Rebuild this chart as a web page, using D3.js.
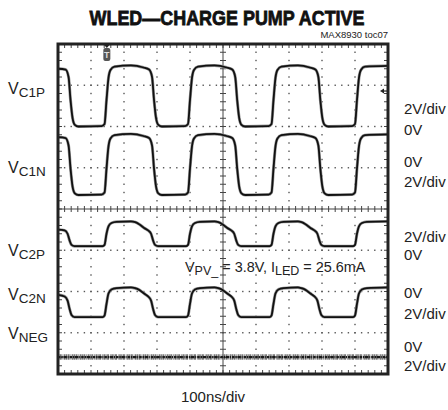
<!DOCTYPE html>
<html lang="en">
<head>
<meta charset="UTF-8">
<title>WLED - Charge Pump Active</title>
<script src="https://d3js.org/d3.v7.min.js"></script>
<style>
  body { margin: 0; background: #fff; }
  svg text { font-family: "Liberation Sans", Arial, sans-serif; fill: #222; }
</style>
</head>
<body>
<svg width="448" height="410"></svg>
<script>
// traces: [time ns, level in screen divisions from bottom]
var vc1p = [[0,7.40],[23,7.38],[32,7.20],[38,6.64],[44,6.21],[51,6.04],[62,6.00],
  [132,6.01],[141,6.06],[147,6.64],[153,7.18],[159,7.37],[171,7.45],[221,7.48],[259,7.43],
  [276,7.38],[285,7.20],[291,6.64],[297,6.21],[304,6.04],[315,6.00],
  [385,6.01],[394,6.06],[400,6.64],[406,7.18],[412,7.37],[424,7.45],[474,7.48],[511,7.43],
  [528,7.38],[537,7.20],[543,6.64],[549,6.21],[556,6.04],[567,6.00],
  [638,6.01],[647,6.06],[653,6.64],[659,7.18],[665,7.37],[677,7.45],[727,7.48],[763,7.43],
  [780,7.38],[789,7.20],[795,6.64],[801,6.21],[808,6.04],[819,6.00],
  [891,6.01],[900,6.06],[906,6.64],[912,7.18],[918,7.37],[930,7.45],[1000,7.47]];

var vc1n = [[0,5.74],[23,5.72],[32,5.54],[38,4.98],[44,4.55],[51,4.38],[62,4.34],
  [132,4.35],[141,4.40],[147,4.98],[153,5.52],[159,5.71],[171,5.79],[221,5.82],[259,5.77],
  [276,5.72],[285,5.54],[291,4.98],[297,4.55],[304,4.38],[315,4.34],
  [385,4.35],[394,4.40],[400,4.98],[406,5.52],[412,5.71],[424,5.79],[474,5.82],[511,5.77],
  [528,5.72],[537,5.54],[543,4.98],[549,4.55],[556,4.38],[567,4.34],
  [638,4.35],[647,4.40],[653,4.98],[659,5.52],[665,5.71],[677,5.79],[727,5.82],[763,5.77],
  [780,5.72],[789,5.54],[795,4.98],[801,4.55],[808,4.38],[819,4.34],
  [891,4.35],[900,4.40],[906,4.98],[912,5.52],[918,5.71],[930,5.79],[1000,5.81]];

var vc2p = [[0,3.50],[20,3.48],[29,3.40],[35,3.24],[41,3.13],[50,3.10],
  [135,3.10],[141,3.13],[147,3.40],[153,3.58],[162,3.66],[177,3.69],[221,3.70],
  [234,3.68],[246,3.63],[261,3.54],[273,3.48],[282,3.40],[288,3.24],[294,3.13],[303,3.10],
  [388,3.10],[394,3.13],[400,3.40],[406,3.58],[415,3.66],[430,3.69],[474,3.70],
  [486,3.68],[498,3.63],[513,3.54],[525,3.48],[534,3.40],[540,3.24],[546,3.13],[555,3.10],
  [641,3.10],[647,3.13],[653,3.40],[659,3.58],[668,3.66],[683,3.69],[727,3.70],
  [738,3.68],[750,3.63],[765,3.54],[777,3.48],[786,3.40],[792,3.24],[798,3.13],[807,3.10],
  [894,3.10],[900,3.13],[906,3.40],[912,3.58],[921,3.66],[936,3.69],[1000,3.70]];

var vc2n = [[0,1.92],[20,1.88],[29,1.78],[35,1.58],[41,1.43],[50,1.38],
  [135,1.38],[141,1.42],[147,1.70],[153,1.95],[162,2.05],[177,2.08],[221,2.10],
  [234,2.08],[246,2.04],[261,1.95],[273,1.88],[282,1.78],[288,1.58],[294,1.43],[303,1.38],
  [388,1.38],[394,1.42],[400,1.70],[406,1.95],[415,2.05],[430,2.08],[474,2.10],
  [486,2.08],[498,2.04],[513,1.95],[525,1.88],[534,1.78],[540,1.58],[546,1.43],[555,1.38],
  [641,1.38],[647,1.42],[653,1.70],[659,1.95],[668,2.05],[683,2.08],[727,2.10],
  [738,2.08],[750,2.04],[765,1.95],[777,1.88],[786,1.78],[792,1.58],[798,1.43],[807,1.38],
  [894,1.38],[900,1.42],[906,1.70],[912,1.95],[921,2.05],[936,2.08],[1000,2.10]];

var vneg = [[0,0.41],[1000,0.41]];

// channel names and scale labels
var channelSubs = ["C1P", "C1N", "C2P", "C2N", "NEG"];
var scaleLabels = ["2V/div", "0V", "0V", "2V/div", "2V/div", "0V", "0V", "2V/div", "0V", "2V/div"];
var triggerTime = 148;
var groundLevel = 6.86;

// layout (baselines)
var channelLabelY = [94, 173, 256, 300, 339];
var scaleLabelY = [114, 135, 167, 187, 242, 260, 298, 319, 352, 371];

var narrow = "'Liberation Sans Narrow', 'Arial Narrow', sans-serif";

var svg = d3.select("svg");

var x = d3.scaleLinear().domain([0, 1000]).range([58, 388]);
var y = d3.scaleLinear().domain([0, 8]).range([374, 44]);

var minorX = d3.range(1, 50).map(function(k) { return k * 20; });
var minorY = d3.range(1, 40).map(function(j) { return j * 0.2; });

// dotted graticule
var dots = [];
[100, 200, 300, 400, 600, 700, 800, 900].forEach(function(t) {
    minorY.forEach(function(v) { dots.push([t, v]); });
});
[1, 2, 3, 5, 6, 7].forEach(function(v) {
    minorX.forEach(function(t) { dots.push([t, v]); });
});
svg.append("g")
    .attr("fill", "#555")
    .selectAll("rect")
    .data(dots)
    .join("rect")
    .attr("x", function(d) { return x(d[0]) - 0.7; })
    .attr("y", function(d) { return y(d[1]) - 0.7; })
    .attr("width", 1.4)
    .attr("height", 1.4);

// center axes with minor ticks
var axes = svg.append("g").attr("stroke", "#444").attr("stroke-width", 1);
axes.append("line").attr("x1", x(500)).attr("x2", x(500)).attr("y1", y(0)).attr("y2", y(8));
axes.append("line").attr("x1", x(0)).attr("x2", x(1000)).attr("y1", y(4)).attr("y2", y(4));
axes.selectAll(".ty").data(minorY).join("line").attr("class", "ty")
    .attr("x1", x(500) - 3).attr("x2", x(500) + 3)
    .attr("y1", function(d) { return y(d); }).attr("y2", function(d) { return y(d); });
axes.selectAll(".tx").data(minorX).join("line").attr("class", "tx")
    .attr("y1", y(4) - 3).attr("y2", y(4) + 3)
    .attr("x1", function(d) { return x(d); }).attr("x2", function(d) { return x(d); });

// frame ticks
axes.selectAll(".ft").data(minorX).join("line").attr("class", "ft")
    .attr("y1", y(8)).attr("y2", y(8) + 4)
    .attr("x1", function(d) { return x(d); }).attr("x2", function(d) { return x(d); });
axes.selectAll(".fb").data(minorX).join("line").attr("class", "fb")
    .attr("y1", y(0)).attr("y2", y(0) - 4)
    .attr("x1", function(d) { return x(d); }).attr("x2", function(d) { return x(d); });
axes.selectAll(".fl").data(minorY).join("line").attr("class", "fl")
    .attr("x1", x(0)).attr("x2", x(0) + 4)
    .attr("y1", function(d) { return y(d); }).attr("y2", function(d) { return y(d); });
axes.selectAll(".fr").data(minorY).join("line").attr("class", "fr")
    .attr("x1", x(1000)).attr("x2", x(1000) - 4)
    .attr("y1", function(d) { return y(d); }).attr("y2", function(d) { return y(d); });

// traces
var line = d3.line()
    .x(function(d) { return x(d[0]); })
    .y(function(d) { return y(d[1]); })
    .curve(d3.curveMonotoneX);

var traces = [vc1p, vc1n, vc2p, vc2n];
svg.append("g").selectAll("path").data(traces).join("path")
    .attr("d", line).attr("fill", "none")
    .attr("stroke", "#999").attr("stroke-width", 3).attr("stroke-linejoin", "round");
svg.append("g").selectAll("path").data(traces).join("path")
    .attr("d", line).attr("fill", "none")
    .attr("stroke", "#111").attr("stroke-width", 1.8).attr("stroke-linejoin", "round");

// noisy VNEG band
svg.append("path").datum(vneg).attr("d", line)
    .attr("fill", "none").attr("stroke", "#777").attr("stroke-width", 5.5)
    .attr("stroke-dasharray", "1.2 0.5 2 0.9 0.7 0.6 1.6 0.4");
svg.append("path").datum(vneg).attr("d", line)
    .attr("fill", "none").attr("stroke", "#1a1a1a").attr("stroke-width", 2.2)
    .attr("stroke-dasharray", "2.5 0.8 1.5 0.6 3.5 0.7 1 1");

// frame
svg.append("rect")
    .attr("x", x(0)).attr("y", y(8))
    .attr("width", x(1000) - x(0)).attr("height", y(0) - y(8))
    .attr("fill", "none").attr("stroke", "#222").attr("stroke-width", 3);

// trigger marker
var trig = svg.append("g").attr("transform", "translate(" + x(triggerTime) + "," + y(8) + ")");
trig.append("path").attr("d", "M-3.5,0 L3.5,0 L0,4 Z").attr("fill", "#222");
trig.append("rect").attr("x", -3.5).attr("y", 4).attr("width", 7).attr("height", 13)
    .attr("rx", 2).attr("fill", "#555");
trig.append("text").attr("x", 0).attr("y", 14).attr("text-anchor", "middle")
    .attr("font-size", 9).attr("font-weight", "bold").style("fill", "#ddd").text("T");

// ground arrow
var gnd = svg.append("g").attr("transform", "translate(" + (x(1000) - 8) + "," + y(groundLevel) + ")");
gnd.append("path").attr("d", "M0,0 L4,-2.5 L4,2.5 Z").attr("fill", "#222");
gnd.append("line").attr("x1", 3).attr("x2", 7).attr("stroke", "#222").attr("stroke-width", 1.2);

// title
svg.append("text")
    .attr("x", 227).attr("y", 25)
    .attr("text-anchor", "middle")
    .attr("font-size", 21).attr("font-weight", "bold")
    .attr("textLength", 275).attr("lengthAdjust", "spacingAndGlyphs")
    .attr("stroke", "#111").attr("stroke-width", 0.8)
    .style("font-family", narrow)
    .style("fill", "#111")
    .text("WLED\u2014CHARGE PUMP ACTIVE");

svg.append("text")
    .attr("x", 388).attr("y", 38)
    .attr("text-anchor", "end")
    .attr("font-size", 9.5)
    .text("MAX8930 toc07");

// channel labels
channelSubs.forEach(function(s, i) {
    var t = svg.append("text").attr("x", 8).attr("y", channelLabelY[i]);
    t.append("tspan").attr("font-size", 16).text("V");
    t.append("tspan").attr("font-size", 13.5).attr("dy", 3)
        .style("font-family", narrow)
        .text(s);
});

// scale labels on the right
svg.append("g").selectAll("text").data(scaleLabels).join("text")
    .attr("x", 404)
    .attr("y", function(d, i) { return scaleLabelY[i]; })
    .attr("font-size", 15)
    .text(function(d) { return d; });

// conditions
var cond = svg.append("text").attr("x", 185).attr("y", 272).attr("font-size", 14.4);
cond.append("tspan").text("V");
cond.append("tspan").attr("font-size", 12.5).attr("dy", 3).text("PV_");
cond.append("tspan").attr("dy", -3).text(" = 3.8V, I");
cond.append("tspan").attr("font-size", 12.5).attr("dy", 3).text("LED");
cond.append("tspan").attr("dy", -3).text(" = 25.6mA");

// time base
svg.append("text")
    .attr("x", 213).attr("y", 402)
    .attr("text-anchor", "middle")
    .attr("font-size", 15)
    .text("100ns/div");
</script>
</body>
</html>
